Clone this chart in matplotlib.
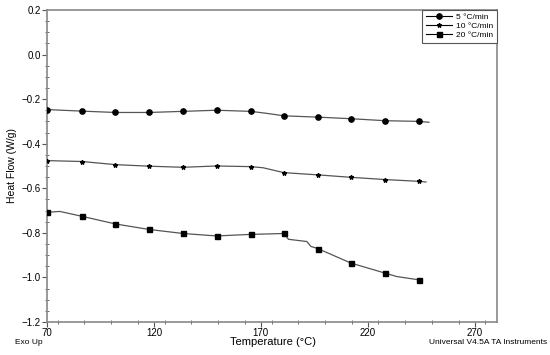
import numpy as np
import matplotlib
matplotlib.use('Agg')
import matplotlib.pyplot as plt
from matplotlib.ticker import MultipleLocator
from matplotlib.legend_handler import HandlerLine2D

plt.rcParams['font.family'] = ['Liberation Sans', 'DejaVu Sans']

# marker positions
temp_marks = [70, 86.4, 101.9, 117.8, 133.6, 149.3, 165.2, 180.8, 196.7, 212.2, 228.2, 243.9]
hf_5 = [-0.247, -0.254, -0.260, -0.260, -0.255, -0.250, -0.255, -0.275, -0.281, -0.288, -0.297, -0.300]
hf_10 = [-0.476, -0.480, -0.494, -0.501, -0.506, -0.500, -0.503, -0.530, -0.540, -0.551, -0.561, -0.569]
hf_20 = [-0.708, -0.726, -0.760, -0.785, -0.803, -0.814, -0.807, -0.803, -0.871, -0.936, -0.981, -1.011]

# extra curve points between markers
extra_5_t = [172.0, 248.6]
extra_5_v = [-0.263, -0.304]
extra_10_t = [171.0, 247.2]
extra_10_v = [-0.508, -0.572]
extra_20_t = [76.0, 182.9, 191.5, 193.4, 233.5, 245.0]
extra_20_v = [-0.704, -0.829, -0.839, -0.861, -0.996, -1.012]

labels = ['5 \u00b0C/min', '10 \u00b0C/min', '20 \u00b0C/min']
markers = ['o', '*', 's']
msizes = [3.8, 3.2, 3.6]


def curve(t_m, v_m, t_x, v_x):
    t = np.array(list(t_m) + list(t_x))
    v = np.array(list(v_m) + list(v_x))
    order = np.argsort(t)
    return t[order], v[order]


class LeftMarker(HandlerLine2D):
    def get_xdata(self, legend, xdescent, ydescent, width, height, fontsize):
        xdata = np.array([-xdescent, -xdescent + width])
        return xdata, np.array([-xdescent])


fig = plt.figure(figsize=(5.5, 3.55), dpi=100)
ax = fig.add_axes([0.0855, 0.093, 0.818, 0.879])

series = [(hf_5, extra_5_t, extra_5_v), (hf_10, extra_10_t, extra_10_v),
          (hf_20, extra_20_t, extra_20_v)]
handles = []
for (vals, et, ev), lab, mk, ms in zip(series, labels, markers, msizes):
    t, v = curve(temp_marks, vals, et, ev)
    ax.plot(t, v, color='#555555', lw=0.9, zorder=2)
    ax.plot(temp_marks, vals, ls='none', marker=mk, ms=ms, color='black', zorder=3)
    h, = ax.plot([], [], color='black', lw=0.8, marker=mk, ms=ms, label=lab)
    handles.append(h)

ax.set_xlim(70, 280.4)
ax.set_ylim(-1.2, 0.2)
ax.set_xticks([70, 120, 170, 220, 270])
ax.set_yticks(np.arange(-1.2, 0.21, 0.2))
ax.xaxis.set_minor_locator(MultipleLocator(12.5))
ax.yaxis.set_minor_locator(MultipleLocator(0.05))
ax.tick_params(which='major', direction='out', length=3.5, width=0.8, color='#555555',
               labelsize=7, pad=1)
ax.tick_params(which='minor', direction='inout', length=3, width=0.6, color='#555555')
for s in ax.spines.values():
    s.set_color('#888888')
    s.set_linewidth(1.2)

ax.set_ylabel('Heat Flow (W/g)', fontsize=7.5, labelpad=3)
fig.text(0.496, 0.036, 'Temperature (\u00b0C)', fontsize=8, va='center', ha='center')

leg = ax.legend(handles=handles, loc='upper right', borderaxespad=0, fontsize=6,
                handler_map={h: LeftMarker() for h in handles}, handlelength=3.2,
                handletextpad=0.5, labelspacing=0.15, fancybox=False,
                framealpha=1, borderpad=0.4)
leg.get_frame().set_edgecolor('#555555')
leg.get_frame().set_linewidth(0.8)

fig.text(0.027, 0.036, 'Exo Up', fontsize=6, va='center', ha='left')
fig.text(0.995, 0.036, 'Universal V4.5A TA Instruments', fontsize=6, va='center', ha='right')

fig.savefig('out.png', dpi=100)
